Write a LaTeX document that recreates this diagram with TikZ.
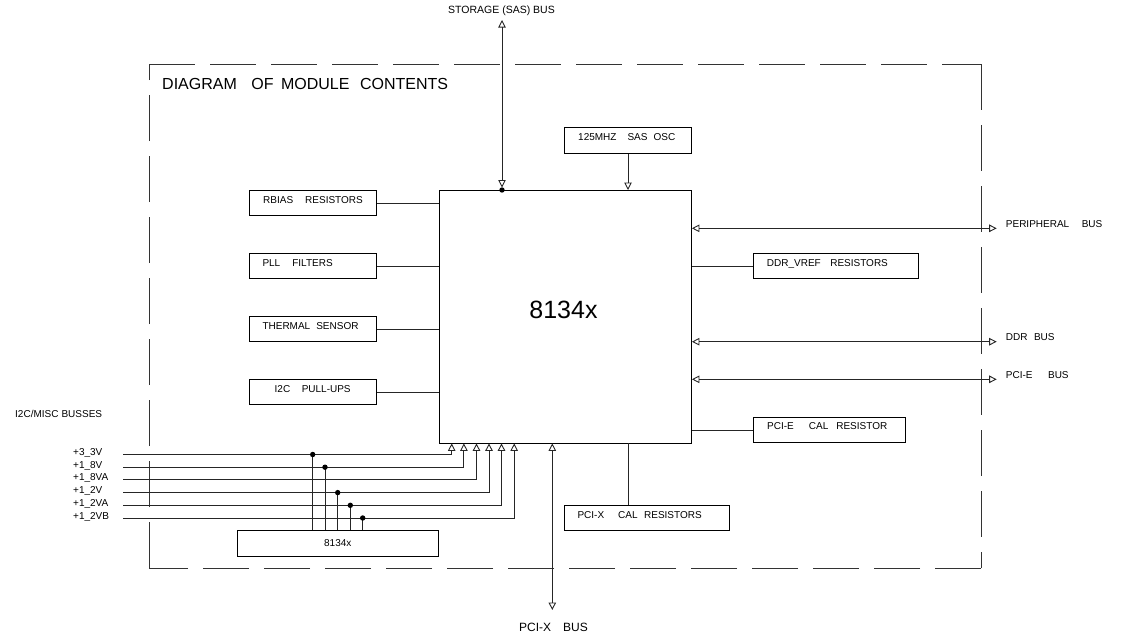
\documentclass[tikz,border=0pt]{standalone}
\usepackage{fontspec}
\setmainfont{Liberation Sans}
\usetikzlibrary{arrows.meta}
\begin{document}
\begin{tikzpicture}[x=1pt,y=-1pt,
  wire/.style={line width=0.9pt, draw=black!85},
  box/.style={draw=black, line width=0.9pt, inner sep=0pt, anchor=north west},
  frame/.style={line width=0.9pt, draw=black!80, dash pattern=on 46pt off 15pt},
  arr/.style={wire, -{Triangle[open,length=7.5pt,width=7.5pt]}},
  darr/.style={wire, {Triangle[open,length=7.5pt,width=7.5pt]}-{Triangle[open,length=7.5pt,width=7.5pt]}},
  lbl/.style={anchor=base west, inner sep=0pt, font=\fontsize{10}{12}\selectfont},
  clbl/.style={anchor=base, inner sep=0pt, font=\fontsize{10}{12}\selectfont},
  dot/.style={fill=black}]
\useasboundingbox (0,0) rectangle (1121,637);

% dashed module frame
\draw[frame] (149,64) -- (981,64);
\draw[frame] (981,64) -- (981,568);
\draw[frame] (981,568) -- (149,568);
\draw[frame] (149,568) -- (149,64);
\node[anchor=base west, inner sep=0pt, font=\fontsize{16}{19}\selectfont] (title) at (162,89.4)
  {DIAGRAM\hspace{14.5pt}OF\hspace{7.5pt}MODULE\hspace{10.5pt}CONTENTS};

% main chip
\node[box, minimum width=252.5pt, minimum height=252.5pt] (chip) at (438.5,190) {};
\node[inner sep=0pt, font=\fontsize{25}{30}\selectfont] (chipT) at (563.5,310) {8134x};

% left boxes
\node[box, minimum width=127pt, minimum height=25pt] (rbias) at (249,190) {};
\node[lbl] (rbiasT) at (263,203.6) {RBIAS\hspace{12pt}RESISTORS};
\node[box, minimum width=127pt, minimum height=25pt] (pll) at (249,253) {};
\node[lbl] (pllT) at (262.3,266.3) {PLL\hspace{12pt}FILTERS};
\node[box, minimum width=127pt, minimum height=25pt] (therm) at (249,316) {};
\node[lbl] (thermT) at (262.3,329.6) {THERMAL\hspace{6pt}SENSOR};
\node[box, minimum width=127pt, minimum height=25pt] (itwoc) at (249,379) {};
\node[lbl] (itwocT) at (274.5,392) {I2C\hspace{11.5pt}PULL-UPS};

\foreach \b in {rbias,pll,therm,itwoc}
  \draw[wire] (\b.east) -- (\b.east -| chip.west);

% oscillator
\coordinate (colX) at (628,0);
\node[box, minimum width=127pt, minimum height=26pt] (osc) at (564,127) {};
\node[lbl] (oscT) at (578,140.3) {125MHZ\hspace{11pt}SAS\hspace{6pt}OSC};
\draw[arr] (osc.south -| colX) -- (chip.north -| colX);

% storage bus
\coordinate (stTop) at (502,20);
\node[clbl, font=\fontsize{10.5}{12}\selectfont] (stT) at (501.5,13.6) {STORAGE (SAS) BUS};
\draw[darr, shorten <=2.5pt] (chip.north -| stTop) -- (stTop);
\fill[dot] (chip.north -| stTop) circle (2.7pt);

% right boxes
\node[box, minimum width=165pt, minimum height=25pt] (ddrv) at (753,253) {};
\node[lbl] (ddrvT) at (766.7,266) {DDR\_VREF\hspace{9.5pt}RESISTORS};
\draw[wire] (ddrv.west) -- (ddrv.west -| chip.east);
\node[box, minimum width=152pt, minimum height=25pt] (pciecal) at (753,417) {};
\node[lbl] (pciecalT) at (767,429.3) {PCI-E\hspace{15pt}CAL\hspace{8pt}RESISTOR};
\draw[wire] (pciecal.west) -- (pciecal.west -| chip.east);

% right buses
\coordinate (perE) at (996.7,228.3);
\coordinate (ddrE) at (996.7,341.7);
\coordinate (pcieE) at (996.7,379.3);
\draw[darr] (chip.east |- perE) -- (perE);
\draw[darr] (chip.east |- ddrE) -- (ddrE);
\draw[darr] (chip.east |- pcieE) -- (pcieE);
\node[lbl] (perT) at (1005.7,227.9) {PERIPHERAL\hspace{12.5pt}BUS};
\node[lbl] (ddrT) at (1005.7,340.9) {DDR\hspace{6.5pt}BUS};
\node[lbl] (pcieT) at (1005.7,378.6) {PCI-E\hspace{15.5pt}BUS};

% PCI-X cal resistors and PCI-X bus
\node[box, minimum width=165pt, minimum height=25pt] (pcixcal) at (564,505) {};
\node[lbl] (pcixcalT) at (577.3,518.3) {PCI-X\hspace{14pt}CAL\hspace{6.5pt}RESISTORS};
\draw[wire] (chip.south -| colX) -- (pcixcal.north -| colX);
\coordinate (pcixE) at (552.3,610);
\draw[darr] (chip.south -| pcixE) -- (pcixE);
\node[anchor=base west, inner sep=0pt, font=\fontsize{12}{14}\selectfont] (pcixT) at (519,631.3) {PCI-X\hspace{12pt}BUS};

% power / misc busses
\node[lbl] (miscT) at (15,417.6) {I2C/MISC\hspace{3pt}BUSSES};
\node[box, minimum width=201pt, minimum height=25.7pt] (mini) at (237.3,530) {};
\node[clbl] (miniT) at (337.8,546.3) {8134x};

\foreach \i/\y/\ax/\t in {1/454.5/451.7/+3\_3V, 2/467.2/463.9/+1\_8V, 3/479.9/476.5/+1\_8VA,
                          4/492.6/489/+1\_2V, 5/505.3/501.5/+1\_2VA, 6/518/514.2/+1\_2VB} {
  \node[lbl] (pwT\i) at (73,\y+1) {\t};
  \coordinate (pw\i) at (123,\y);
  \coordinate (pa\i) at (\ax,0);
  \draw[arr] (pw\i) -| (chip.south -| pa\i);
}

\coordinate (d1) at (312.7,454.5);
\coordinate (d2) at (325,467.2);
\coordinate (d3) at (337.7,492.6);
\coordinate (d4) at (350.3,505.3);
\coordinate (d5) at (362.7,518);
\foreach \d in {d1,d2,d3,d4,d5} {
  \draw[wire] (\d) -- (\d |- mini.north);
  \fill[dot] (\d) circle (2.7pt);
}
\end{tikzpicture}
\end{document}
